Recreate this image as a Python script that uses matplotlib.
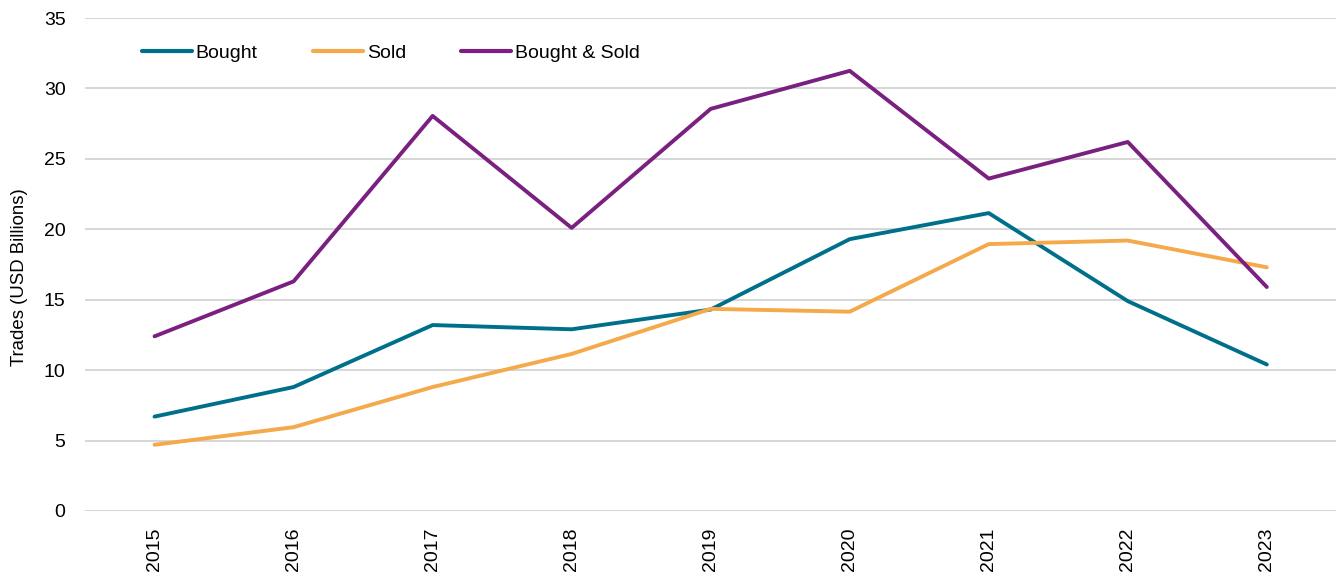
import matplotlib.pyplot as plt
import numpy as np

plt.rcParams['font.family'] = ['Liberation Sans', 'DejaVu Sans']

years = ['2015', '2016', '2017', '2018', '2019', '2020', '2021', '2022', '2023']
bought = [6.7, 8.8, 13.2, 12.9, 14.3, 19.3, 21.15, 14.9, 10.4]
sold = [4.7, 5.95, 8.8, 11.15, 14.35, 14.15, 18.95, 19.2, 17.3]
bought_sold = [12.4, 16.3, 28.05, 20.1, 28.55, 31.25, 23.6, 26.2, 15.9]

fig = plt.figure(figsize=(13.39, 5.74), dpi=100)
ax = fig.add_axes([0.0635, 0.1098, 0.9345, 0.8588])

x = np.arange(len(years))
ax.plot(x, bought, color='#00708A', lw=2.8, label='Bought', solid_capstyle='round')
ax.plot(x, sold, color='#F4A94B', lw=2.8, label='Sold', solid_capstyle='round')
ax.plot(x, bought_sold, color='#7A2080', lw=2.8, label='Bought & Sold', solid_capstyle='round')

ax.set_xlim(-0.5, len(years) - 0.5)
ax.set_ylim(0, 35)
ax.set_yticks(np.arange(0, 36, 5))
ax.set_xticks(x)
ax.set_xticklabels(years, rotation=90)
ax.tick_params(axis='both', length=0, labelsize=14, colors='black')
ax.tick_params(axis='y', pad=14)
ax.tick_params(axis='x', pad=12)
ax.grid(axis='y', color='#D0D0D0', lw=1.2)
ax.set_axisbelow(True)
for s in ax.spines.values():
    s.set_visible(False)
ax.set_ylabel('Trades (USD Billions)', fontsize=13.4)
ax.yaxis.set_label_coords(-0.0456, 0.475)

leg = ax.legend(loc='upper left', bbox_to_anchor=(0.0315, 0.982), ncol=3, frameon=False,
                fontsize=14, handlelength=2.57, handletextpad=0.2, columnspacing=2.83)
for h in leg.get_lines():
    h.set_linewidth(3.0)

plt.savefig('out.png', dpi=100)
